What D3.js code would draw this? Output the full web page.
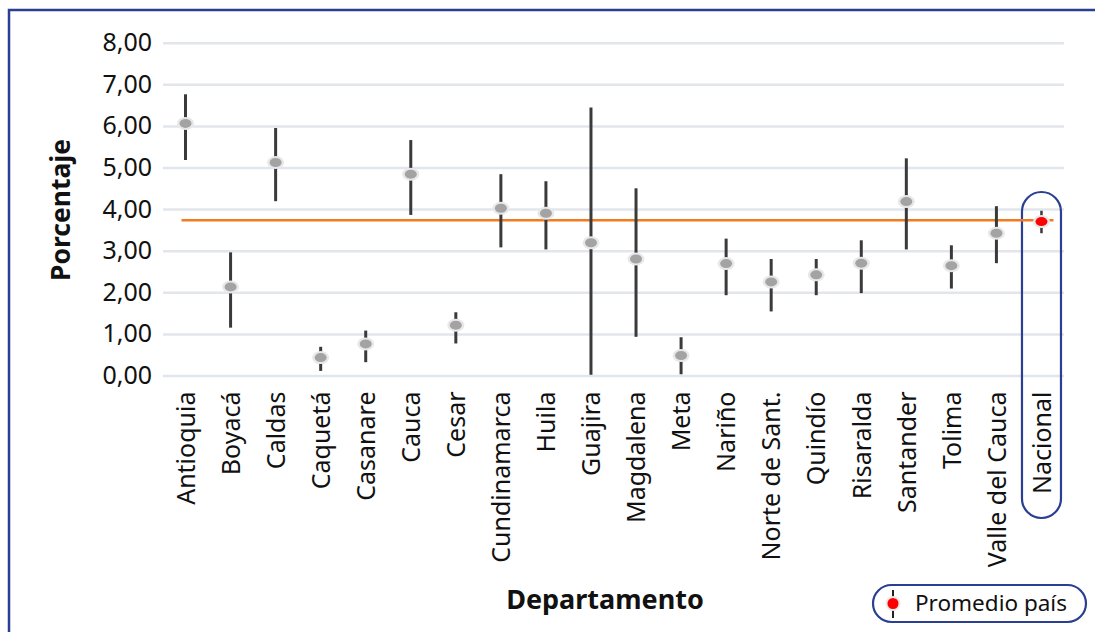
<!DOCTYPE html>
<html>
<head>
<meta charset="utf-8">
<script src="https://cdn.jsdelivr.net/npm/d3@7"></script>
<style>
  body { margin: 0; background: #fff; }
  text { font-family: "Noto Sans", "Open Sans", sans-serif; }
</style>
</head>
<body>
<div id="chart-area"></div>
<script>
const departamentos = ["Antioquia", "Boyacá", "Caldas", "Caquetá", "Casanare", "Cauca", "Cesar",
    "Cundinamarca", "Huila", "Guajira", "Magdalena", "Meta", "Nariño", "Norte de Sant.",
    "Quindío", "Risaralda", "Santander", "Tolima", "Valle del Cauca", "Nacional"];
const porcentaje = [6.06, 2.13, 5.12, 0.43, 0.76, 4.84, 1.21, 4.02, 3.90, 3.19, 2.80, 0.48, 2.69, 2.25,
    2.42, 2.70, 4.18, 2.64, 3.42, 3.70];
const limiteInf = [5.18, 1.15, 4.19, 0.11, 0.32, 3.86, 0.77, 3.08, 3.03, 0.02, 0.93, 0.03, 1.93, 1.54,
    1.93, 1.98, 3.03, 2.09, 2.70, 3.42];
const limiteSup = [6.76, 2.96, 5.95, 0.69, 1.08, 5.66, 1.52, 4.84, 4.67, 6.44, 4.50, 0.92, 3.29, 2.80,
    2.80, 3.25, 5.22, 3.13, 4.07, 3.96];
const promedioPais = 3.73;
const yTicks = [0, 1, 2, 3, 4, 5, 6, 7, 8];

const data = departamentos.map((d, i) => ({
    dep: d, val: porcentaje[i], lo: limiteInf[i], hi: limiteSup[i]
}));

const width = 1095, height = 632;
const margin = { left: 163, right: 31, top: 43, bottom: 256 };

const svg = d3.select("#chart-area").append("svg")
    .attr("width", width)
    .attr("height", height);

// marco
svg.append("rect")
    .attr("x", 9).attr("y", 10)
    .attr("width", width + 20).attr("height", height + 20)
    .attr("fill", "none")
    .attr("stroke", "#2b3f92")
    .attr("stroke-width", 2.5);

const x = d3.scalePoint()
    .domain(departamentos)
    .range([margin.left, width - margin.right])
    .padding(0.5);

const y = d3.scaleLinear()
    .domain([0, 8])
    .range([375.5, 42.7]);

// grid
const yAxis = svg.append("g")
    .attr("transform", `translate(${margin.left},0)`)
    .call(d3.axisLeft(y).tickValues(yTicks)
        .tickSize(-(width - margin.right - margin.left))
        .tickPadding(11)
        .tickFormat(d => d3.format(".2f")(d).replace(".", ",")));
yAxis.select(".domain").remove();
yAxis.selectAll(".tick line").attr("stroke", "#e2e6ec").attr("stroke-width", 2.5);
yAxis.selectAll(".tick text")
    .attr("fill", "#111")
    .style("font-size", "25px");

// eje x
const xAxis = svg.append("g")
    .attr("transform", `translate(0,${y(0)})`)
    .call(d3.axisBottom(x).tickSize(0).tickPadding(0));
xAxis.select(".domain").remove();
xAxis.selectAll(".tick text")
    .attr("transform", "rotate(-90)")
    .attr("x", -16)
    .attr("y", 0)
    .attr("dy", "0.35em")
    .attr("text-anchor", "end")
    .attr("fill", "#111")
    .style("font-size", "25px");

// resaltado Nacional
const xn = x("Nacional");
svg.append("rect")
    .attr("x", xn - 19.5).attr("y", 192)
    .attr("width", 39).attr("height", 326)
    .attr("rx", 19.5).attr("ry", 19.5)
    .attr("fill", "none")
    .attr("stroke", "#2b3f92")
    .attr("stroke-width", 2.2);

// promedio país
svg.append("line")
    .attr("x1", x("Antioquia") - 4).attr("x2", xn + 12)
    .attr("y1", y(promedioPais)).attr("y2", y(promedioPais))
    .attr("stroke", "#f47a20")
    .attr("stroke-width", 2.5);

// intervalos
svg.selectAll(".err").data(data).enter().append("line")
    .attr("class", "err")
    .attr("x1", d => x(d.dep)).attr("x2", d => x(d.dep))
    .attr("y1", d => y(d.lo)).attr("y2", d => y(d.hi))
    .attr("stroke", "#3a3a3a")
    .attr("stroke-width", d => d.dep === "Nacional" ? 2.5 : 3);

svg.selectAll(".halo").data(data).enter().append("ellipse")
    .attr("class", "halo")
    .attr("cx", d => x(d.dep)).attr("cy", d => y(d.val))
    .attr("rx", 8.5).attr("ry", 6.5)
    .attr("fill", "#e8e8e8");

svg.selectAll(".pt").data(data).enter().append("ellipse")
    .attr("class", "pt")
    .attr("cx", d => x(d.dep)).attr("cy", d => y(d.val))
    .attr("rx", 6).attr("ry", 4.5)
    .attr("fill", d => d.dep === "Nacional" ? "#ff0000" : "#a3a3a3");

// titulos de ejes
svg.append("text")
    .attr("transform", `translate(70,210) rotate(-90)`)
    .attr("text-anchor", "middle")
    .attr("font-weight", "bold")
    .style("font-size", "26.5px")
    .attr("fill", "#111")
    .text("Porcentaje");

svg.append("text")
    .attr("x", 605).attr("y", 609)
    .attr("text-anchor", "middle")
    .attr("font-weight", "bold")
    .style("font-size", "27px")
    .attr("fill", "#111")
    .text("Departamento");

// leyenda
const lg = svg.append("g");
lg.append("rect")
    .attr("x", 873).attr("y", 585)
    .attr("width", 213).attr("height", 37)
    .attr("rx", 18.5).attr("ry", 18.5)
    .attr("fill", "#fff")
    .attr("stroke", "#2b3f92")
    .attr("stroke-width", 2.2);
lg.append("line")
    .attr("x1", 893).attr("x2", 893)
    .attr("y1", 590).attr("y2", 618)
    .attr("stroke", "#222").attr("stroke-width", 2);
lg.append("ellipse")
    .attr("cx", 893).attr("cy", 603.5)
    .attr("rx", 7.5).attr("ry", 7.5)
    .attr("fill", "#e8e8e8");
lg.append("ellipse")
    .attr("cx", 893).attr("cy", 603.5)
    .attr("rx", 5.5).attr("ry", 5.5)
    .attr("fill", "#ff0000");
lg.append("text")
    .attr("x", 915).attr("y", 611)
    .style("font-size", "22.5px")
    .attr("fill", "#111")
    .text("Promedio país");
</script>
</body>
</html>
